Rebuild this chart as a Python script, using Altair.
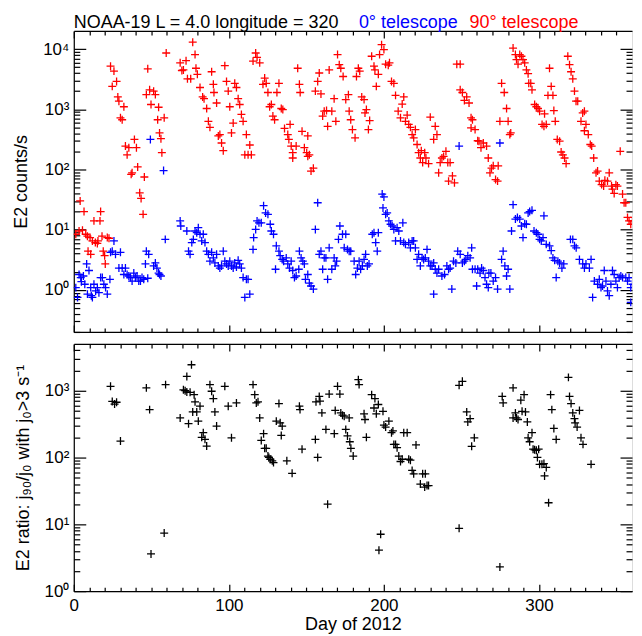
import altair as alt
import pandas as pd

# ---------------- data ----------------
# 90 degree telescope (red), top panel
days_90 = [1.3, 3.4, 4.1, 5.6, 6.6, 7.7, 8.8, 9.2, 10.9, 10.5, 12, 13, 13.9, 15.2, 15.6, 16.9, 17.3, 18.2, 19, 19.9, 20.3, 21.6, 22.7,
           23.7, 25.9, 24.8, 27.6, 28.4, 29.1, 30.1, 31.2, 32.3, 33.3, 34.4, 35.5, 37, 37.6, 39.1, 40.4, 41.2, 42.5, 43.4, 44.7, 45.5,
           46.8, 47.7, 48.9, 49.8, 51.5, 52.6, 54.1, 54.7, 55.3, 56.2, 56.8, 58.3, 59.6,
           68.6, 69.7, 70.7, 72.4, 73.3, 75.4, 76.7, 78.2, 78.8, 79.7, 81.4, 83.1, 84, 85.7, 86.8, 87.8, 88.9, 90, 90.4, 92.1, 93.2,
           94.2, 95.3, 96.4, 97.4, 98.5, 99.6, 100.6, 101.7, 102.8, 103.8, 104.9, 106, 107, 108.1, 109.2, 110.3, 111.3, 112.4, 113.5, 114.5,
           115.6, 117.3, 118.2, 119.9, 123.1, 122, 124.1, 125.2, 126.3, 127.4, 128.4, 129.5, 131, 132.3, 133.8, 134.8, 135.9, 138, 138.7,
           139.5, 140.2, 141.2, 143.4, 141.2, 144.4, 145.5, 146, 147.2, 148.7, 150.2, 150.9, 150.9, 151.9, 153, 154.5, 155.8, 157.3, 158.3,
           159.4, 160.5, 161.5, 163, 163.7, 164.7, 166.4, 167.9, 169, 170.1, 171.2, 172.2, 173.7, 175.4, 177.1, 177.6, 178.6, 179.7, 181.4,
           182.3, 183.5, 184.4, 185.7, 187.2, 187.8, 188.7, 190, 190.8, 192.1, 193.6, 194.2, 195.1, 196.4, 197.2, 198.5, 200, 201.1, 202.8,
           203.6, 204.9, 206.4, 207.5, 209.2, 210.7, 211.8, 212.8, 213.9, 215, 216, 217.1, 218.2, 219.2, 220.3, 221.4, 222.4, 223.5, 224.1,
           225, 226.3, 227.1, 228.8, 229.9, 232.1, 233.1, 234.2,
           235.3, 236.3, 237.4, 238.5, 240, 241.2, 242.7, 241.7, 244.2, 245.5, 247, 249.2, 249.2, 250.6, 251.9, 253.4, 254.9, 256.2, 257.1,
           256.2, 258.8, 260.5, 261.3, 262.6, 264.1, 266.2, 267.3, 268.4, 269.4, 270.5, 272, 273.3, 273.7, 274.8, 275.9, 277.6, 279.1, 280.1,
           281.2, 281.8, 283.3, 284.8, 285.5, 286.5, 287.6, 288.7, 289.7, 290.8, 291.9, 293, 293.4, 294.7, 295.5, 297.2, 298.3, 299.4, 300.4,
           302, 303.2, 304.7, 303.6, 305.8, 306.8, 307.9, 309, 309.6, 310.5, 311.8, 313.3, 314.3, 315.4, 316.5, 317.5, 318.6, 319.7, 320.7,
           321.8, 322.9, 323.9, 325, 327.1, 328.2, 329.3, 329.3, 330.3, 331.8, 333.1, 334, 335.3, 336.8, 337.8, 338.9, 340.4, 341.7, 342.5,
           344.2, 345.3, 346.8, 347.4, 348.5, 349.6, 350.6, 352.4, 353.9, 354.9, 356, 357.1, 358.1, 359.2, 360.3, 361.3, 362.4, 363.5]
vals_90 = [8.4, 9.5, 30, 9.8, 20, 8.4, 7.8, 4.4, 3.9, 7.4, 6.5, 14, 6.1, 5.9, 6.5, 14, 20, 7.8, 4.4, 3.7, 2.7, 7.4, 7.2,
           5200, 4300, 2400, 2900, 1600, 1360, 720, 670, 1100, 245, 175, 230, 83, 88, 315, 230, 110, 41, 33, 18, 75,
           1750, 4700, 2100, 1200, 2000, 1750, 670, 1080, 405, 325, 190, 720, 8600,
           5900, 4400, 4500, 6400, 3200, 3200, 13000, 8100, 4800, 3800, 2300, 1600, 1500, 1030, 630, 500, 4200, 2600, 1900, 1270, 360,
           380, 275, 205, 5300, 2900, 2000, 1100, 405, 590, 2700, 2300, 1500, 1200, 820, 630, 175, 380, 175, 255, 175,
           6300, 8600, 7300, 5900, 3300, 2600, 2700, 1900, 1100, 1200, 770, 670, 1900, 2700, 1030, 990, 480, 380, 315,
           560, 245, 190, 245, 155, 4800, 2600, 1900, 430, 230, 190, 360, 165, 175, 94, 105, 2000, 2900, 4000,
           1800, 770, 930, 950, 520, 4500, 930, 1500, 630, 8100, 5500, 4800, 3500, 1450, 1750, 930, 670, 460, 335,
           3500, 4800, 4300, 1600, 1450, 870, 990, 460, 650, 7600, 5200, 4500, 2400, 3800, 8100, 11800, 9800, 5600, 5400,
           5900, 2900, 2700, 1700, 930, 720, 1220, 1600, 630, 800, 560, 500, 380, 335, 460, 260, 190, 155, 205,
           130, 190, 155, 125, 740, 315, 520, 380,
           88, 130, 155, 165, 200, 130, 130, 64, 78, 60, 5600, 5600, 2100, 1900, 1400, 1600, 1270, 720, 670,
           490, 460, 300, 295, 230, 275, 245, 155, 88, 105, 115, 68, 64, 115, 630, 2700, 1900, 1030, 630,
           380, 405, 10400, 8100, 6700, 5600, 8100, 7600, 6700, 5900, 4500, 3900, 2700, 2700, 2100, 1200, 1100, 1030, 930,
           560, 520, 560, 840, 1700, 4800, 2400, 1700, 950, 630, 315, 295, 195, 175, 155, 125, 7600, 5500, 4200,
           3200, 2000, 1360, 1360, 630, 870, 930, 440, 560, 380, 260, 245, 155, 88, 94, 64, 56, 53, 66,
           64, 88, 53, 47, 40, 56, 53, 200, 39, 28, 28, 16, 14, 12.3, 14, 16, 13, 16]

# 0 degree telescope (blue), top panel
days_0 = [1.3, 2.4, 3.4, 4.5, 4.9, 6.2, 7.1, 8.3, 8.8, 9.8, 10.9, 11.3, 12, 13, 14.1, 15.2, 16.2, 17.3, 18.4, 19.4, 20.5, 21.6,
          23.3, 23.7, 24.8, 25.9, 26.9, 29.1, 30.1, 31.2, 32.3, 33.3, 34.4, 35.5, 36.5, 37.6, 38.7, 39.7, 40.8, 41.9, 43, 44,
          45.1, 46.2, 46.8, 47.7, 48.3, 49.4, 51.5, 52.6, 53.6, 54.7, 55.3, 56.2, 57.9, 59,
          68.6, 69, 72.9, 74, 75, 76.1, 77.1, 78.2, 79.3, 80.3, 81.4, 82.5, 83.5, 84.6, 85.7, 86.8, 87.8, 88.9, 90, 91, 92.1,
          93.2, 94.2, 95.3, 96.4, 97.4, 98.5, 99.6, 100.6, 101.7, 102.8, 103.8, 104.9, 106, 107, 108.1, 109.2, 110.3, 111.3, 112.4,
          113.5, 115.6, 116, 117.3, 118.2, 119.4, 120.9, 122.4, 123.7, 125.2, 126.7, 127.4, 128.8, 130.6, 130.1, 132.3, 133.1, 134.4,
          135.3, 137, 138, 139.1, 140.2, 141.2, 142.3, 143.4, 145.1, 145.5, 146.6, 147.7, 148.7, 149.4, 150.9, 151.9, 153, 154.5,
          155.8, 157.3, 158.3, 159.4, 160.5, 161.5, 162.6, 163.7, 164.7, 166.4, 167.9, 168.6, 169.5, 170.7, 171.6, 173.3, 174.4,
          175.4, 176.5, 177.6, 178.6, 180.8, 181.8, 182.9, 184, 185, 186.1, 187.2, 188.2, 189.3, 190.4, 192.5, 193.6, 194.7, 195.7,
          196.4, 198.9, 199.4, 200, 201.1, 202.1, 203.2, 204.3, 205.3, 206.4, 207.5, 208.5, 209.6, 210.7, 212.2, 212.8, 213.9, 216,
          217.1, 218.2, 219.2, 220.3, 221.4, 222.4, 223.5, 224.6, 225.6, 226.7, 227.8, 228.8, 229.9, 231, 232.1, 232.1, 233.1, 234.2,
          235.3, 237.4, 239.1, 240.6, 241.7, 242.7, 243.8, 244.9, 246.4, 247.6, 248.5, 249.2, 250.6, 251.9, 252.8, 254.1, 255.6,
          256.6, 257.1, 258.8, 259.8, 260.5, 262, 263, 264.1, 265.2, 266.2, 267.3, 267.7, 269, 270.5, 272, 273.3, 274.8, 275.9,
          276.9, 278, 279.1, 280.1, 281.2, 282.3, 283.3, 284.8, 286.1, 287.6, 288.7, 289.7, 290.8, 291.9, 293, 294, 295.5, 296.8,
          298.3, 299.4, 300.4, 301.5, 302.6, 303.2, 304.7, 306.8, 307.9, 309, 310.1, 311.1, 312.2, 313.3, 314.8, 316, 320.3, 321.8,
          322.9, 324, 326.1, 328.2, 329.3, 330.3, 332.5, 333.6, 334.6, 335.7, 337.8, 338.9, 340, 341, 342.1, 343.2, 344.2, 345.3,
          346.4, 347.4, 348.5, 349.6, 350.6, 351.7, 352.8, 353.9, 356, 357.1, 358.1, 359.2, 360.3, 359.2, 361.3, 363.5]
vals_0 = [1.09, 0.75, 1.8, 1.6, 1.37, 1.7, 1.24, 2.7, 0.85, 2.1, 1.09, 0.8, 0.75, 1.24, 0.96, 1.09, 0.9, 1.6, 1.6, 1.24, 1.09, 0.85,
          1.5, 4.2, 4.4, 6.5, 3.9, 2.3, 4.2, 2.3, 1.8, 2.3, 1.8, 1.7, 1.6, 1.4, 1.9, 1.6, 1.7, 1.4, 1.4, 1.6,
          1.5, 2.7, 4.4, 1.56, 3.9, 315, 2.5, 2.8, 2.3, 1.9, 1.8, 1.7, 96, 6.9,
          14, 11.5, 9.5, 4.4, 3.9, 6.1, 6.9, 9.5, 8.9, 10.8, 8.4, 6.5, 8.4, 6.1, 4.4, 3.9, 3.0, 4.2, 3.4, 2.8, 3.9,
          2.5, 2.3, 2.5, 4.4, 3.0, 2.7, 2.5, 3.0, 2.5, 2.3, 2.8, 2.4, 3.1, 2.7, 2.3, 1.6, 0.75, 1.5, 1.5,
          0.85, 4.7, 7.4, 10.1, 14, 13, 13, 25, 19, 18, 12.3, 9.5, 8.4, 5.4, 2.2, 4.4, 3.7, 3.2,
          3.0, 3.4, 2.7, 2.3, 3.0, 2.1, 1.6, 1.7, 2.2, 4.4, 3.4, 3.0, 2.7, 1.5, 1.8, 1.3, 1.16, 1.03,
          10.1, 28, 3.9, 4.4, 2.2, 3.4, 3.4, 1.5, 5.0, 2.2, 3.4, 2.5, 3.0, 6.9, 11.5, 8.4, 5.0,
          8.4, 4.7, 4.4, 4.4, 3.0, 1.8, 2.3, 3.0, 2.2, 2.5, 3.2, 3.9, 2.5, 2.7, 8.4, 8.9, 6.1, 4.4,
          8.9, 39, 23, 35, 18, 19, 14, 12.3, 11.5, 10.1, 6.5, 10.8, 9.5, 6.5, 13, 6.1, 5.7, 6.1,
          5.0, 6.5, 6.5, 5.0, 3.2, 3.9, 2.5, 3.4, 3.2, 3.4, 4.7, 3.0, 2.5, 2.5, 2.8, 0.85, 2.2, 1.9,
          2.2, 1.7, 1.8, 2.5, 2.2, 2.3, 1.03, 3.0, 2.8, 4.4, 245, 3.9, 2.8, 3.0, 3.2, 3.7, 3.4,
          5.0, 2.2, 2.2, 1.16, 2.2, 1.9, 2.3, 2.1, 1.6, 1.24, 1.09, 1.9, 1.9, 1.4, 1.6, 1.03, 275, 3.2,
          4.4, 2.5, 1.7, 2.2, 1.03, 9.5, 26, 15, 16, 15, 11.5, 7.4, 12.5, 12.3, 19, 20, 21, 9.5,
          8.9, 8.4, 6.9, 6.5, 7.4, 17, 5.7, 5.4, 4.5, 3.4, 3.1, 1.6, 3.0, 2.8, 2.3, 2.7, 6.9, 6.9,
          5.4, 5.0, 3.2, 2.7, 2.3, 2.7, 2.3, 3.2, 0.75, 1.4, 1.24, 1.5, 1.09, 1.16, 2.1, 1.4, 0.96, 0.8,
          1.24, 2.1, 1.8, 1.4, 1.09, 1.6, 1.7, 1.6, 1.6, 1.4, 1.6, 1.09, 1.24, 0.62, 1.6, 1.5]

# ratio j90/j0 (black), bottom panel
days_ratio = [23.7, 24.8, 26.3, 27.6, 30.1, 46.8, 48.9, 49.8, 58.3, 59.2, 68.6, 70.7, 71.8, 72.9, 72.9, 74, 75, 75.9, 76.7,
              77.6, 78.2, 79.3, 80.3, 81.4, 82.5, 83.5, 84.6, 85.7, 87.8, 88.9, 90, 91, 92.1, 97.4, 99.6, 101.7, 104.9,
              115.6, 116.7, 117.7, 118.8, 119.9, 120.9, 122.4, 123.1, 124.1, 125.2, 125.8, 126.7, 128, 128.8, 130.6, 132.3,
              133.1, 133.8, 134.4, 137.4, 140.8, 145.5, 145.9, 147.2, 155.8, 156.2, 157.3, 158.3, 158.8, 160, 162.6, 163.7,
              164.7, 168, 168.6, 170.1, 171.6, 172.2, 173.3, 174.4, 175.4, 176.5, 177.6, 178, 178.7, 180.2, 183.5, 184,
              187.2, 187.8, 188.7, 192.1, 193.6, 194.2, 195.1, 196.4, 196.8, 197.9, 199.4, 200, 201.1, 203.2, 204.9, 205.8,
              206.4, 207.5, 208.5, 209.6, 210.7, 211.8, 212.8, 215, 216, 217.1, 218.2, 219.2, 220.7, 223.5, 225, 226.3,
              226.7, 227.8, 228.8,
              248.5, 250.6, 253.4, 254.1, 255.6, 256.6, 258.3, 248.5, 274.8, 276.3, 276.9, 283.3, 283.3, 284.8, 285.5,
              286.5, 288.3, 289.1, 290.4, 291.3, 292.5, 293, 294, 295.5, 296.2, 297.2, 298.3, 299.8, 299, 300.4, 301.9,
              303.2, 304.7, 303.6, 306.2, 307.5, 308.3, 309.6, 311.1, 319, 319.7, 320.7, 321.8, 322.9, 323.3, 324.6,
              326.1, 327.1, 328.4, 333.6]
vals_ratio = [1160, 690, 630, 670, 176, 1100, 520, 3.6, 7.4, 1230, 390, 1030, 1000, 1630, 955, 320, 945, 2440, 480,
              870, 680, 480, 350, 585, 200, 235, 187, 148, 1230, 980, 760, 480, 295, 1160, 585, 197, 655,
              1230, 870, 655, 680, 390, 180, 227, 137, 137, 105, 100, 94, 89, 84, 350, 640,
              330, 214, 295, 89, 58, 585, 520, 133, 186, 680, 100, 820, 695, 465, 263, 20,
              890, 227, 505, 1160, 890, 465, 430, 415, 263, 210, 390, 172, 137, 105, 1460, 1230,
              450, 370, 200, 870, 550, 760, 450, 620, 4.1, 7.1, 490, 305, 285, 350, 235, 250,
              157, 157, 140, 105, 87, 94, 235, 235, 94, 91, 64, 57, 154, 40, 57, 36,
              57, 38, 38,
              1200, 1380, 480, 340, 380, 147, 197, 8.7, 2.3, 820, 655, 1100, 390, 465, 390,
              370, 720, 490, 870, 480, 340, 197, 172, 235, 133, 130, 128, 133, 100, 79, 79,
              81, 71, 53, 21, 870, 520, 272, 186, 1580, 820, 640, 465, 380, 330, 285,
              505, 197, 157, 79]

series_names = ["0° telescope", "90° telescope"]
series_colors = ["#0000ff", "#ff0000"]

x_major = [0, 100, 200, 300]
x_minor = [v for v in range(10, 360, 10) if v % 100 != 0]
top_major = [1, 10, 100, 1000, 10000]
top_minor = [m * 10 ** e for e in range(-1, 4) for m in range(2, 10) if 0.2 <= m * 10 ** e <= 20000]
bot_major = [1, 10, 100, 1000]
bot_minor = [m * 10 ** e for e in range(0, 4) for m in range(2, 10) if m * 10 ** e < 5000]

# ---------------- chart ----------------
FONT = "Liberation Sans"
W, H1, H2 = 560, 302, 248
XDOM = [0, 360]
MAJ, MIN = 12, 6
XMAJ, XMIN = 7, 4
LW = 1.2

top_df = pd.concat([
    pd.DataFrame({"day": days_0, "val": vals_0, "series": series_names[0]}),
    pd.DataFrame({"day": days_90, "val": vals_90, "series": series_names[1]}),
], ignore_index=True)
top_df["order"] = range(len(top_df))
bot_df = pd.DataFrame({"day": days_ratio, "val": vals_ratio})

PLUS = "M-1,0L1,0M0,-1L0,1"
xs = alt.Scale(domain=XDOM, nice=False, zero=False)

sup = "datum.value >= 5000 ? '10⁴' : datum.value >= 500 ? '10³' : datum.value >= 50 ? '10²' : datum.value >= 5 ? '10¹' : '10⁰'"


def ax(orient, values, size, **kw):
    base = dict(orient=orient, values=values, tickSize=size, offset=-size, domain=False,
                labels=False, grid=False, ticks=True, tickColor="black", tickWidth=LW, title=None)
    base.update(kw)
    return alt.Axis(**base)


def frame(orient):
    return alt.Axis(orient=orient, domain=True, domainColor="black", domainWidth=LW, ticks=False,
                    labels=False, grid=False, title=None, offset=0)


def panel(df, ys, ytitle, ymajor, yminor, main_layer, xlabels):
    ghost = alt.Chart(df).mark_point(opacity=0, clip=True)
    if xlabels:
        xb = ax("bottom", x_major, XMAJ, labels=True, labelFont=FONT, labelFontSize=17, labelColor="black",
                labelPadding=6, labelFlush=False, title="Day of 2012", titleFont=FONT, titleFontSize=18,
                titleFontWeight="normal", titleColor="black", titlePadding=2)
    else:
        xb = ax("bottom", x_major, XMAJ)
    yl = ax("left", ymajor, MAJ, labels=True, labelExpr=sup, labelFont=FONT, labelFontSize=17,
            labelColor="black", labelPadding=5, title=ytitle, titleFont=FONT, titleFontSize=18,
            titleFontWeight="normal", titleColor="black", titlePadding=12)
    l1 = main_layer.encode(
        x=alt.X("day:Q", scale=xs, axis=xb),
        y=alt.Y("val:Q", scale=ys, axis=yl),
    )
    l2 = ghost.encode(x=alt.X("day:Q", scale=xs, axis=ax("bottom", x_minor, XMIN)),
                      y=alt.Y("val:Q", scale=ys, axis=ax("left", yminor, MIN)))
    l3 = ghost.encode(x=alt.X("day:Q", scale=xs, axis=ax("top", x_major, XMAJ)),
                      y=alt.Y("val:Q", scale=ys, axis=ax("right", ymajor, MAJ)))
    l4 = ghost.encode(x=alt.X("day:Q", scale=xs, axis=ax("top", x_minor, XMIN)),
                      y=alt.Y("val:Q", scale=ys, axis=ax("right", yminor, MIN)))
    l5 = ghost.encode(x=alt.X("day:Q", scale=xs, axis=frame("bottom")),
                      y=alt.Y("val:Q", scale=ys, axis=frame("left")))
    l6 = ghost.encode(x=alt.X("day:Q", scale=xs, axis=frame("top")),
                      y=alt.Y("val:Q", scale=ys, axis=None))
    return [l1, l2, l3, l4, l5, l6]


top_ys = alt.Scale(type="log", domain=[0.2, 20000], nice=False)
bot_ys = alt.Scale(type="log", domain=[1, 5000], nice=False)

top_pts = alt.Chart(top_df).mark_point(shape=PLUS, size=64, strokeWidth=1.3, filled=False, opacity=1,
                                       clip=True).encode(
    color=alt.Color("series:N", scale=alt.Scale(domain=series_names, range=series_colors), legend=None),
    order=alt.Order("order:Q"),
)
bot_pts = alt.Chart(bot_df).mark_point(shape=PLUS, size=64, strokeWidth=1.3, filled=False, opacity=1,
                                       color="black", clip=True)


def title_text(txt, xpos, color):
    return alt.Chart(alt.Data(values=[{"t": txt}])).mark_text(
        align="left", baseline="alphabetic", font=FONT, fontSize=18, color=color
    ).encode(x=alt.value(xpos), y=alt.value(-3), text="t:N")


top = alt.layer(
    *panel(top_df, top_ys, "E2 counts/s", top_major, top_minor, top_pts, False),
    title_text("NOAA-19 L = 4.0 longitude = 320", 0, "black"),
    title_text("0° telescope", 286, "#0000ff"),
    title_text("90° telescope", 397, "#ff0000"),
).resolve_axis(x="independent", y="independent").properties(width=W, height=H1)

bottom = alt.layer(
    *panel(bot_df, bot_ys, "E2 ratio: j₉₀/j₀ with j₀>3 s⁻¹", bot_major, bot_minor, bot_pts, True),
).resolve_axis(x="independent", y="independent").properties(width=W, height=H2)

chart = alt.vconcat(top, bottom, spacing=8).configure_view(
    stroke=None
).configure(background="white", padding={"left": 4, "top": 4, "right": 0, "bottom": 0})

chart.save("out.html", embed_options={"renderer": "svg", "actions": False})
